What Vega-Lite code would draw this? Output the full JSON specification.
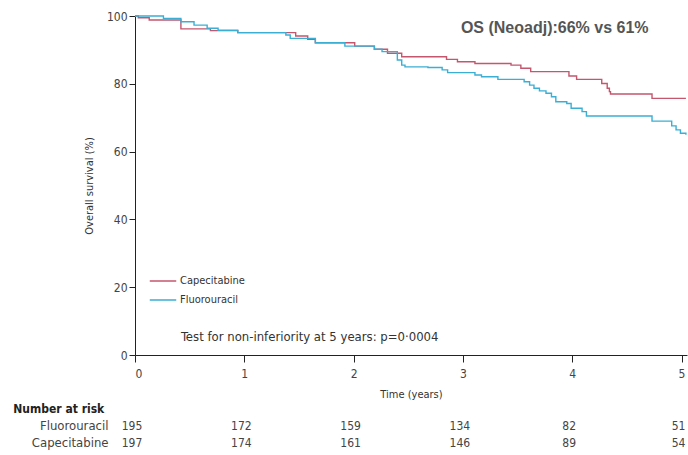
{
  "$schema": "https://vega.github.io/schema/vega-lite/v6.json",
  "padding": {"top": 10, "left": 13, "right": 2, "bottom": 0},
  "spacing": 4,
  "config": {
    "view": {"stroke": null},
    "font": "DejaVu Sans Condensed, sans-serif",
    "axis": {"grid": false, "domainColor": "#222", "tickColor": "#222", "labelColor": "#444", "labelFontSize": 12, "titleColor": "#333", "titleFontSize": 11, "titleFontWeight": "normal"}
  },
  "resolve": {"scale": {"color": "independent"}, "legend": {"color": "independent"}},
  "vconcat": [
    {
      "width": 552,
      "height": 339,
      "layer": [
        {
          "data": {"values": [
            {"group": "Capecitabine", "t": 0, "S": 100},
            {"group": "Capecitabine", "t": 0.03, "S": 99.5},
            {"group": "Capecitabine", "t": 0.13, "S": 98.8},
            {"group": "Capecitabine", "t": 0.42, "S": 96.2},
            {"group": "Capecitabine", "t": 0.69, "S": 95.7},
            {"group": "Capecitabine", "t": 0.94, "S": 95.1},
            {"group": "Capecitabine", "t": 1.47, "S": 94.1},
            {"group": "Capecitabine", "t": 1.58, "S": 93.1},
            {"group": "Capecitabine", "t": 1.65, "S": 92.1},
            {"group": "Capecitabine", "t": 2.01, "S": 91.1},
            {"group": "Capecitabine", "t": 2.19, "S": 90.2},
            {"group": "Capecitabine", "t": 2.31, "S": 89.0},
            {"group": "Capecitabine", "t": 2.44, "S": 88.0},
            {"group": "Capecitabine", "t": 2.85, "S": 87.2},
            {"group": "Capecitabine", "t": 2.95, "S": 86.5},
            {"group": "Capecitabine", "t": 3.11, "S": 86.0},
            {"group": "Capecitabine", "t": 3.44, "S": 85.5},
            {"group": "Capecitabine", "t": 3.53, "S": 84.6},
            {"group": "Capecitabine", "t": 3.62, "S": 83.6},
            {"group": "Capecitabine", "t": 3.97, "S": 82.3},
            {"group": "Capecitabine", "t": 4.04, "S": 81.3},
            {"group": "Capecitabine", "t": 4.27, "S": 80.1},
            {"group": "Capecitabine", "t": 4.32, "S": 78.7},
            {"group": "Capecitabine", "t": 4.34, "S": 77.7},
            {"group": "Capecitabine", "t": 4.35, "S": 77.0},
            {"group": "Capecitabine", "t": 4.73, "S": 75.7},
            {"group": "Capecitabine", "t": 5.04, "S": 75.7},
            {"group": "Fluorouracil", "t": 0, "S": 100},
            {"group": "Fluorouracil", "t": 0.26, "S": 99.3},
            {"group": "Fluorouracil", "t": 0.42, "S": 98.3},
            {"group": "Fluorouracil", "t": 0.54, "S": 97.3},
            {"group": "Fluorouracil", "t": 0.66, "S": 96.4},
            {"group": "Fluorouracil", "t": 0.76, "S": 95.8},
            {"group": "Fluorouracil", "t": 0.94, "S": 95.1},
            {"group": "Fluorouracil", "t": 1.38, "S": 94.4},
            {"group": "Fluorouracil", "t": 1.42, "S": 93.4},
            {"group": "Fluorouracil", "t": 1.65, "S": 92.1},
            {"group": "Fluorouracil", "t": 1.92, "S": 91.1},
            {"group": "Fluorouracil", "t": 2.19, "S": 90.2},
            {"group": "Fluorouracil", "t": 2.26, "S": 89.5},
            {"group": "Fluorouracil", "t": 2.40, "S": 87.0},
            {"group": "Fluorouracil", "t": 2.44, "S": 85.5},
            {"group": "Fluorouracil", "t": 2.47, "S": 85.0},
            {"group": "Fluorouracil", "t": 2.68, "S": 84.8},
            {"group": "Fluorouracil", "t": 2.81, "S": 84.1},
            {"group": "Fluorouracil", "t": 2.86, "S": 83.3},
            {"group": "Fluorouracil", "t": 3.11, "S": 82.6},
            {"group": "Fluorouracil", "t": 3.17, "S": 82.1},
            {"group": "Fluorouracil", "t": 3.32, "S": 81.3},
            {"group": "Fluorouracil", "t": 3.56, "S": 80.6},
            {"group": "Fluorouracil", "t": 3.61, "S": 79.6},
            {"group": "Fluorouracil", "t": 3.65, "S": 78.7},
            {"group": "Fluorouracil", "t": 3.70, "S": 77.9},
            {"group": "Fluorouracil", "t": 3.76, "S": 77.2},
            {"group": "Fluorouracil", "t": 3.81, "S": 76.2},
            {"group": "Fluorouracil", "t": 3.85, "S": 74.7},
            {"group": "Fluorouracil", "t": 3.95, "S": 74.2},
            {"group": "Fluorouracil", "t": 3.99, "S": 72.8},
            {"group": "Fluorouracil", "t": 4.09, "S": 71.8},
            {"group": "Fluorouracil", "t": 4.13, "S": 70.5},
            {"group": "Fluorouracil", "t": 4.73, "S": 69.0},
            {"group": "Fluorouracil", "t": 4.91, "S": 67.6},
            {"group": "Fluorouracil", "t": 4.95, "S": 66.4},
            {"group": "Fluorouracil", "t": 4.99, "S": 65.4},
            {"group": "Fluorouracil", "t": 5.04, "S": 65.0}
          ]},
          "mark": {"type": "line", "interpolate": "step-after", "strokeWidth": 1.4},
          "encoding": {
            "x": {"field": "t", "type": "quantitative", "scale": {"domain": [0, 5.05], "nice": false},
                  "axis": {"values": [0, 1, 2, 3, 4, 5], "format": "d", "title": "Time (years)", "tickSize": 7, "labelPadding": 6, "titlePadding": 9}},
            "y": {"field": "S", "type": "quantitative", "scale": {"domain": [0, 100], "nice": false},
                  "axis": {"values": [0, 20, 40, 60, 80, 100], "title": "Overall survival (%)", "tickSize": 6, "labelPadding": 2, "titlePadding": 12}},
            "color": {"field": "group", "type": "nominal",
                      "scale": {"domain": ["Capecitabine", "Fluorouracil"], "range": ["#c4566e", "#3aaed3"]},
                      "legend": {"title": null, "orient": "none", "legendX": 14, "legendY": 251, "symbolType": "stroke", "symbolSize": 700, "symbolStrokeWidth": 1.5, "labelFontSize": 11, "labelColor": "#333", "labelOffset": 3, "rowPadding": -1, "padding": 0}}
          }
        },
        {
          "data": {"values": [{"label": "OS (Neoadj):66% vs 61%"}]},
          "mark": {"type": "text", "font": "Liberation Sans, Arial, sans-serif", "fontWeight": "bold", "fontSize": 16, "color": "#555", "align": "center", "baseline": "middle"},
          "encoding": {"x": {"datum": 3.84, "type": "quantitative"}, "y": {"datum": 96.5, "type": "quantitative"}, "text": {"field": "label"}}
        },
        {
          "data": {"values": [{"label": "Test for non-inferiority at 5 years: p=0·0004"}]},
          "mark": {"type": "text", "fontSize": 13, "color": "#333", "align": "left", "baseline": "middle"},
          "encoding": {"x": {"datum": 0.42, "type": "quantitative"}, "y": {"datum": 5.3, "type": "quantitative"}, "text": {"field": "label"}}
        }
      ]
    },
    {
      "width": 552,
      "height": 34,
      "title": {"text": "Number at risk", "anchor": "start", "frame": "bounds", "fontWeight": "bold", "fontSize": 12, "offset": 1, "dx": -18, "color": "#222"},
      "data": {"values": [
        {"group": "Fluorouracil", "t": 0, "n": 195},
        {"group": "Fluorouracil", "t": 1, "n": 172},
        {"group": "Fluorouracil", "t": 2, "n": 159},
        {"group": "Fluorouracil", "t": 3, "n": 134},
        {"group": "Fluorouracil", "t": 4, "n": 82},
        {"group": "Fluorouracil", "t": 5, "n": 51},
        {"group": "Capecitabine", "t": 0, "n": 197},
        {"group": "Capecitabine", "t": 1, "n": 174},
        {"group": "Capecitabine", "t": 2, "n": 161},
        {"group": "Capecitabine", "t": 3, "n": 146},
        {"group": "Capecitabine", "t": 4, "n": 89},
        {"group": "Capecitabine", "t": 5, "n": 54}
      ]},
      "mark": {"type": "text", "fontSize": 12, "color": "#444", "dx": -3},
      "encoding": {
        "x": {"field": "t", "type": "quantitative", "scale": {"domain": [0, 5.05], "nice": false}, "axis": null},
        "y": {"field": "group", "type": "nominal", "sort": ["Fluorouracil", "Capecitabine"],
              "axis": {"title": null, "domain": false, "ticks": false, "labelPadding": 27, "labelFontSize": 13, "labelColor": "#444"}},
        "text": {"field": "n"}
      }
    }
  ]
}
